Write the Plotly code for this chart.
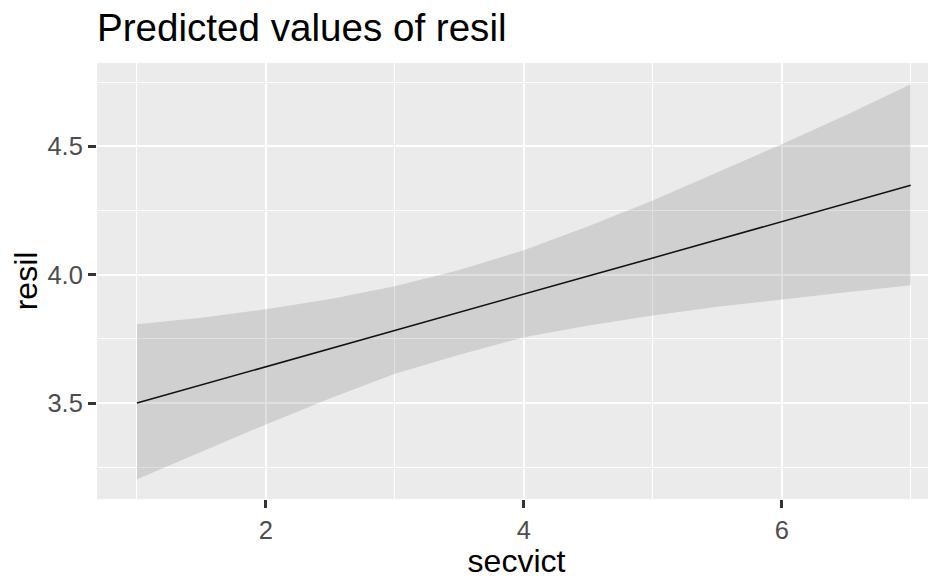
import plotly.graph_objects as go

# Data
secvict = [1.0, 1.5, 2.0, 2.5, 3.0, 3.5, 4.0, 4.5, 5.0, 5.5, 6.0, 6.5, 7.0]
predicted = [3.500, 3.571, 3.641, 3.712, 3.783, 3.853, 3.924, 3.995, 4.065, 4.136, 4.206, 4.277, 4.348]
conf_low = [3.203, 3.310, 3.417, 3.519, 3.614, 3.688, 3.756, 3.802, 3.841, 3.875, 3.904, 3.931, 3.959]
conf_high = [3.807, 3.832, 3.865, 3.905, 3.955, 4.018, 4.095, 4.188, 4.289, 4.397, 4.508, 4.622, 4.741]

x_major = [2, 4, 6]
x_minor = [1, 3, 5, 7]
y_major = [3.5, 4.0, 4.5]
y_major_text = ["3.5", "4.0", "4.5"]
y_minor = [3.25, 3.75, 4.25, 4.75]

FONT = "Liberation Sans, Arial, sans-serif"

fig = go.Figure()
fig.add_trace(go.Scatter(x=secvict, y=conf_low, mode="lines",
                         line=dict(width=0, color="rgba(0,0,0,0)"),
                         showlegend=False, hoverinfo="skip"))
fig.add_trace(go.Scatter(x=secvict, y=conf_high, mode="lines",
                         line=dict(width=0, color="rgba(0,0,0,0)"),
                         fill="tonexty", fillcolor="rgba(128,128,128,0.25)",
                         showlegend=False, hoverinfo="skip"))
fig.add_trace(go.Scatter(x=secvict, y=predicted, mode="lines",
                         line=dict(width=1.5, color="#111111"),
                         showlegend=False))

# page body has an 8px margin, so the figure is sized/offset to compensate
fig.update_layout(
    width=928, height=571,
    margin=dict(l=89, r=0, t=55, b=80, autoexpand=False),
    paper_bgcolor="white", plot_bgcolor="#EBEBEB",
    title=dict(text="Predicted values of resil", x=0, xref="paper", xanchor="left",
               y=0.9667, yref="container", yanchor="middle",
               font=dict(family=FONT, size=38.6, color="black")),
    font=dict(family=FONT),
)

fig.update_xaxes(
    range=[0.69, 7.196], showline=False, zeroline=False,
    tickvals=x_major, ticks="outside", ticklen=8, tickwidth=2.5, tickcolor="#333333",
    tickfont=dict(family=FONT, size=25.5, color="#4D4D4D"),
    showgrid=True, gridcolor="white", gridwidth=2.4,
    minor=dict(tickvals=x_minor, showgrid=True, gridcolor="white", gridwidth=1.2, ticks=""),
    title=dict(text="secvict", font=dict(family=FONT, size=32, color="black"), standoff=6),
)
fig.update_yaxes(
    range=[3.1265, 4.824], showline=False, zeroline=False,
    tickvals=y_major, ticktext=y_major_text, ticks="outside", ticklen=8, tickwidth=2.5,
    tickcolor="#333333",
    tickfont=dict(family=FONT, size=25.5, color="#4D4D4D"),
    showgrid=True, gridcolor="white", gridwidth=2.4,
    minor=dict(tickvals=y_minor, showgrid=True, gridcolor="white", gridwidth=1.2, ticks=""),
    title=dict(text="resil", font=dict(family=FONT, size=32, color="black"), standoff=8),
)

fig.write_html("out.html")
